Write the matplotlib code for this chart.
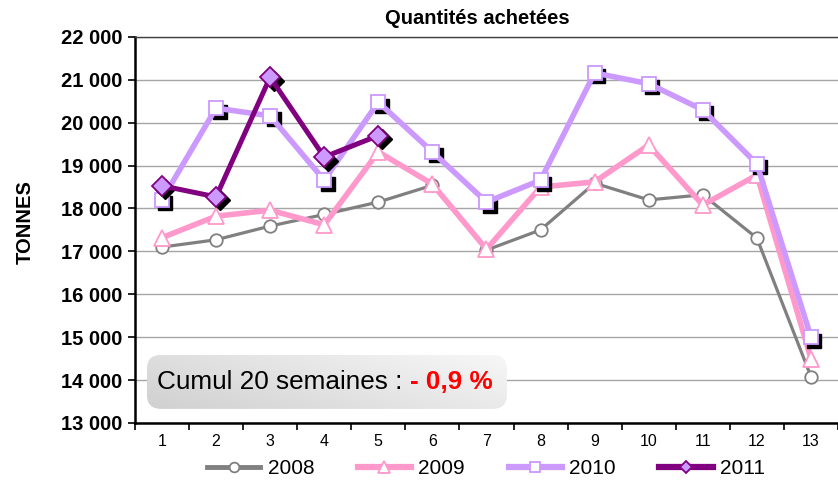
import matplotlib
matplotlib.use("Agg")
import matplotlib.pyplot as plt
import matplotlib.transforms as mtransforms
from matplotlib.patches import FancyBboxPatch
from matplotlib.lines import Line2D
from matplotlib.colors import LinearSegmentedColormap
import numpy as np

plt.rcParams['font.family'] = ['Liberation Sans', 'DejaVu Sans']

weeks = list(range(1, 14))
y2008 = [17100, 17270, 17590, 17860, 18150, 18540, 17030, 17500, 18590, 18200, 18320, 17310, 14080]
y2009 = [17320, 17820, 17960, 17620, 19320, 18570, 17050, 18500, 18620, 19480, 18080, 18780, 14500]
y2010 = [18200, 20340, 20160, 18660, 20480, 19320, 18150, 18660, 21160, 20910, 20300, 19040, 15000]
w2011 = [1, 2, 3, 4, 5]
y2011 = [18530, 18270, 21060, 19200, 19700]
yticks = [13000, 14000, 15000, 16000, 17000, 18000, 19000, 20000, 21000, 22000]
ytick_labels = ["13 000", "14 000", "15 000", "16 000", "17 000", "18 000",
                "19 000", "20 000", "21 000", "22 000"]

fig = plt.figure(figsize=(8.38, 4.8), dpi=100)
ax = fig.add_axes([0.161, 0.119, 0.839, 0.804])

ax.set_ylim(13000, 22000)
ax.set_xlim(0.5, 13.5)
ax.set_yticks(yticks)
ax.set_yticklabels(ytick_labels, fontsize=14.5, fontweight='bold')
ax.set_xticks(weeks)
ax.set_xticklabels([str(w) for w in weeks], fontsize=11.5)
ax.set_xticks(np.arange(0.5, 13.6, 1), minor=True)
ax.tick_params(axis='x', which='major', length=0, pad=8)
ax.tick_params(axis='x', which='minor', length=5, width=1.2, direction='out')
ax.tick_params(axis='y', length=5, width=1.2, direction='out', pad=4)
ax.grid(axis='y', color='#a6a6a6', linewidth=1)
ax.set_axisbelow(True)
for s in ['left', 'bottom']:
    ax.spines[s].set_linewidth(1.8)
    ax.spines[s].set_color('black')
ax.spines['top'].set_color('#404040')
ax.spines['top'].set_linewidth(1)
ax.spines['right'].set_visible(False)

shadow = mtransforms.offset_copy(ax.transData, fig=fig, x=3.5, y=-3.5, units='dots')

ax.plot(weeks, y2008, color='#808080', lw=2.3, marker='o', ms=9,
        mfc='white', mec='#808080', mew=1.3, zorder=3)
ax.plot(weeks, y2009, color='#ff99cc', lw=4, marker='^', ms=11,
        mfc='white', mec='#ff99cc', mew=1.3, zorder=4)
ax.plot(weeks, y2010, color='black', lw=0, marker='s', ms=10,
        mfc='black', mec='black', transform=shadow, zorder=5)
ax.plot(weeks, y2010, color='#cc99ff', lw=4, marker='s', ms=10,
        mfc='white', mec='#cc99ff', mew=1.3, zorder=6)
ax.plot(w2011, y2011, color='black', lw=0, marker='D', ms=10,
        mfc='black', mec='black', transform=shadow, zorder=7)
ax.plot(w2011, y2011, color='#800080', lw=3.6, marker='D', ms=10,
        mfc='#cc99ff', mec='#800080', mew=1.3, zorder=8)

fig.text(477 / 838, 1 - 19 / 480, 'Quantités achetées', fontsize=14.5,
         fontweight='bold', ha='center', va='center')
fig.text(25 / 838, 1 - 222 / 480, 'TONNES', fontsize=14.5, fontweight='bold',
         rotation=90, ha='center', va='center')

# annotation box with gradient (pixel coords converted to axes coords)
ax_l, ax_b, ax_w, ax_h = 135, 423, 838 * 0.839, 480 * 0.804
x0 = (147 - ax_l) / ax_w
w = (507 - 147) / ax_w
y0 = (ax_b - 409) / ax_h
h = (409 - 355) / ax_h
box = FancyBboxPatch((x0, y0), w, h, boxstyle='round,pad=0,rounding_size=0.02',
                     transform=ax.transAxes, facecolor='none', edgecolor='none',
                     mutation_aspect=ax_w / ax_h, zorder=9)
ax.add_patch(box)
gx, gy = np.meshgrid(np.linspace(0, 1, 256), np.linspace(0, 1, 64))
grad = 0.65 * gx + 0.35 * gy
cmap = LinearSegmentedColormap.from_list('g', ['#d0d0d0', '#e4e4e4', '#f7f7f7'])
im = ax.imshow(grad, extent=[x0, x0 + w, y0, y0 + h], transform=ax.transAxes,
               cmap=cmap, aspect='auto', origin='lower', zorder=9)
im.set_clip_path(box)
t1 = ax.text((157 - ax_l) / ax_w, y0 + h / 2, 'Cumul 20 semaines : ',
             transform=ax.transAxes, fontsize=18.8, va='center', ha='left',
             color='black', zorder=10)
fig.canvas.draw()
bb = t1.get_window_extent()
inv = ax.transAxes.inverted()
xe = inv.transform((bb.x1, bb.y0))[0]
ax.text(xe, y0 + h / 2, '- 0,9 %', transform=ax.transAxes, fontsize=18.8,
        fontweight='bold', va='center', ha='left', color='#ff0000', zorder=10)

handles = [
    Line2D([], [], color='#808080', lw=3.5, marker='o', ms=7, mfc='white', mec='#808080', mew=1.3),
    Line2D([], [], color='#ff99cc', lw=4.5, marker='^', ms=8, mfc='white', mec='#ff99cc', mew=1.3),
    Line2D([], [], color='#cc99ff', lw=4.5, marker='s', ms=7, mfc='white', mec='#cc99ff', mew=1.3),
    Line2D([], [], color='#800080', lw=4.5, marker='D', ms=6.5, mfc='#cc99ff', mec='#800080', mew=1.3),
]
fig.legend(handles, ['2008', '2009', '2010', '2011'], loc='center',
           bbox_to_anchor=(486 / 838, 1 - 469 / 480), ncol=4, frameon=False,
           fontsize=15, handlelength=2.55, columnspacing=2.1, handletextpad=0.35,
           borderpad=0, borderaxespad=0)

fig.savefig('out.png', dpi=100)
